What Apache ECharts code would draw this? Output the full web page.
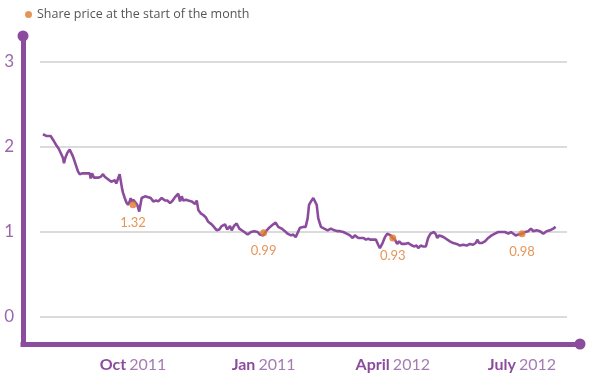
<!DOCTYPE html>
<html>
<head>
<meta charset="utf-8">
<script src="https://cdn.jsdelivr.net/npm/echarts@6/dist/echarts.min.js"></script>
<style>html,body{margin:0;padding:0;background:#fff}#c{width:600px;height:388px}</style>
</head>
<body>
<div id="c"></div>
<script>
// Day offsets from 1 Oct 2011
const days = [-63.4,-61.1,-58.0,-57.0,-56.1,-55.1,-54.0,-52.3,-50.9,-49.3,-48.6,-47.7,-46.3,-44.6,-43.5,-42.3,-41.1,-39.9,-38.7,-37.5,-35.9,-34.5,-32.9,-31.7,-30.5,-29.8,-28.9,-27.5,-25.8,-24.2,-22.7,-21.1,-19.9,-18.8,-17.6,-16.4,-15.3,-14.1,-12.9,-11.8,-10.6,-9.4,-8.7,-7.7,-7.0,-5.8,-4.7,-3.5,-2.3,-1.6,-0.7,
0.2,3.0,4.4,6.1,8.5,10.8,12.5,14.3,16.2,17.8,20.2,22.5,24.2,26.1,28.0,29.6,31.9,33.1,34.3,35.4,37.3,38.9,41.3,43.7,44.9,46.0,47.7,49.5,51.4,53.0,55.4,57.0,58.9,60.8,62.5,64.8,66.4,68.3,69.5,71.1,73.0,74.9,
76.1,78.4,80.8,83.1,85.4,87.8,89.4,91.8,94.2,96.5,98.8,100.5,102.3,104.7,107.0,108.9,111.3,112.9,114.6,116.0,117.6,119.9,121.6,123.0,124.0,125.4,127.0,128.2,129.4,130.5,132.4,134.7,137.1,139.4,141.8,144.2,
145.8,148.1,150.5,152.8,154.7,156.3,158.7,160.4,162.2,164.1,165.7,167.4,169.2,171.1,172.7,173.9,175.8,177.5,179.1,180.5,181.5,182.9,184.5,186.1,187.5,189.2,191.5,193.9,195.6,197.9,199.8,200.9,202.6,204.4,206.3,207.9,209.6,212.0,213.4,214.3,215.7,217.4,
219.7,223.2,225.6,228.0,230.3,232.6,235.0,237.3,239.6,241.3,242.7,243.7,245.6,247.9,250.2,252.6,254.9,257.3,259.6,262.0,264.4,266.2,267.9,269.6,271.3,274.2,276.1,278.4,280.3,281.9,284.3,286.6,289.0,291.3,293.7,296.0,297.7];
const price = [2.15,2.13,2.13,2.14,2.08,2.09,2.02,1.98,1.93,1.87,1.81,1.87,1.93,1.97,1.95,1.89,1.83,1.77,1.71,1.68,1.69,1.68,1.69,1.70,1.69,1.63,1.69,1.64,1.64,1.64,1.65,1.68,1.65,1.63,1.62,1.63,1.59,1.58,1.61,1.57,1.59,1.68,1.61,1.51,1.46,1.40,1.35,1.32,1.36,1.40,1.35,
1.38,1.32,1.24,1.40,1.42,1.41,1.40,1.36,1.37,1.36,1.40,1.37,1.37,1.34,1.37,1.41,1.45,1.36,1.42,1.37,1.38,1.37,1.36,1.33,1.37,1.26,1.22,1.20,1.17,1.12,1.09,1.06,1.02,1.03,1.07,1.09,1.03,1.07,1.02,1.07,1.10,1.04,
1.02,1.00,0.97,1.00,1.01,1.00,0.97,0.96,1.02,1.06,1.09,1.11,1.06,1.04,1.01,0.98,0.96,0.97,0.94,0.96,1.05,1.06,1.06,1.16,1.32,1.36,1.40,1.42,1.32,1.16,1.06,1.04,1.02,1.04,1.02,1.01,
1.01,1.00,0.98,0.96,0.93,0.96,0.93,0.93,0.93,0.91,0.92,0.91,0.91,0.91,0.85,0.81,0.87,0.94,0.98,1.00,0.96,0.93,0.91,0.86,0.89,0.86,0.86,0.87,0.85,0.83,0.84,0.81,0.84,0.83,0.83,0.93,0.98,1.00,0.97,0.93,0.96,0.95,
0.93,0.89,0.87,0.86,0.84,0.85,0.84,0.86,0.85,0.87,0.91,0.87,0.87,0.89,0.93,0.96,0.98,1.00,1.00,1.00,0.98,1.00,0.98,0.96,0.97,0.98,1.00,1.01,1.04,1.01,1.02,1.01,0.98,1.01,1.02,1.04,1.06];
// Start-of-month points
const monthDays = [0, 92, 183, 274];
const monthPrice = [1.32, 0.99, 0.93, 0.98];
// Tick labels
const xMonths = ['Oct', 'Jan', 'April', 'July'];
const xYears = ['2011', '2011', '2012', '2012'];
const yTicks = [0, 1, 2, 3];
const legendName = 'Share price at the start of the month';

const PURPLE = '#8c4c9e';
const ORANGE = '#e07a2e';
const FONT = 'Lato';

const chart = echarts.init(document.getElementById('c'), null, {renderer: 'canvas'});
chart.setOption({
  animation: false,
  textStyle: {fontFamily: FONT},
  legend: {
    data: [legendName], left: 20, top: 3, icon: 'circle', itemWidth: 7, itemHeight: 7, itemGap: 5,
    textStyle: {color: '#555', fontSize: 12.5, fontFamily: 'Open Sans'}
  },
  grid: [
    {left: 23, right: 20, top: 36, bottom: 44},
    {left: 40, right: 33, top: 62, bottom: 71}
  ],
  xAxis: [
    {gridIndex: 0, type: 'value', min: 0, max: 1,
     axisLine: {show: true, symbol: ['none', 'circle'], symbolSize: [11, 11], lineStyle: {color: PURPLE, width: 5, cap: 'square'}},
     axisTick: {show: false}, axisLabel: {show: false}, splitLine: {show: false}},
    {gridIndex: 1, type: 'value', min: -65.5, max: 305.7,
     axisLine: {show: false}, axisTick: {show: false}, splitLine: {show: false},
     axisLabel: {
       customValues: monthDays, margin: 40,
       formatter: function (v) {
         const i = monthDays.indexOf(v);
         return i < 0 ? '' : '{m|' + xMonths[i] + '} {y|' + xYears[i] + '}';
       },
       rich: {
         m: {color: PURPLE, fontSize: 16, fontWeight: 'bold', fontFamily: FONT},
         y: {color: '#a47cb4', fontSize: 16, fontFamily: FONT}
       }
     }}
  ],
  yAxis: [
    {gridIndex: 0, type: 'value', min: 0, max: 1,
     axisLine: {show: true, symbol: ['none', 'circle'], symbolSize: [11, 11], lineStyle: {color: PURPLE, width: 5, cap: 'square'}},
     axisTick: {show: false}, axisLabel: {show: false}, splitLine: {show: false}},
    {gridIndex: 1, type: 'value', min: yTicks[0], max: yTicks[yTicks.length - 1], interval: 1,
     axisLine: {show: false}, axisTick: {show: false},
     axisLabel: {margin: 26, color: '#9b66ad', fontSize: 17, fontFamily: FONT},
     splitLine: {show: true, lineStyle: {color: '#cfcfcf', width: 1.5}}}
  ],
  series: [
    {type: 'line', xAxisIndex: 1, yAxisIndex: 1, showSymbol: false, z: 2,
     data: days.map((d, i) => [d, price[i]]),
     lineStyle: {color: PURPLE, width: 2.6}, itemStyle: {color: PURPLE}},
    {type: 'scatter', name: legendName, xAxisIndex: 1, yAxisIndex: 1, z: 5, symbolSize: 7,
     data: monthDays.map((d, i) => [d, monthPrice[i]]),
     itemStyle: {color: ORANGE},
     label: {show: true, position: 'bottom', distance: 8, color: ORANGE, fontSize: 13, fontFamily: FONT,
       formatter: p => p.value[1].toFixed(2)}}
  ]
});
</script>
</body>
</html>
